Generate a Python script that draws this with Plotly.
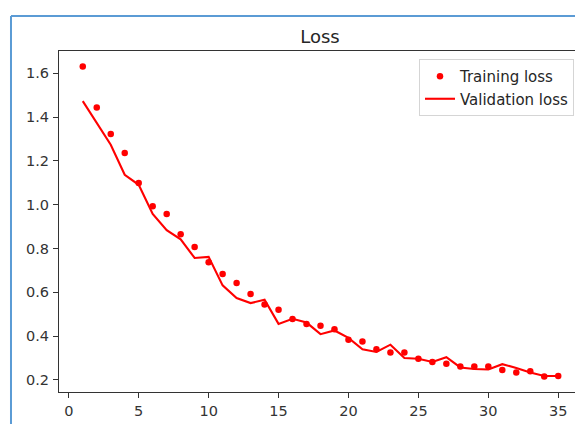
import plotly.graph_objects as go

epochs = list(range(1, 36))
training_loss = [1.631, 1.444, 1.323, 1.236, 1.099, 0.993, 0.958, 0.865, 0.807, 0.737,
                 0.684, 0.643, 0.592, 0.545, 0.521, 0.478, 0.456, 0.447, 0.432, 0.384,
                 0.376, 0.340, 0.325, 0.325, 0.297, 0.282, 0.274, 0.261, 0.262, 0.262,
                 0.246, 0.234, 0.240, 0.216, 0.218]
validation_loss = [1.473, 1.374, 1.274, 1.137, 1.091, 0.958, 0.884, 0.842, 0.757, 0.762,
                   0.632, 0.574, 0.551, 0.566, 0.456, 0.479, 0.462, 0.409, 0.426, 0.392,
                   0.340, 0.328, 0.361, 0.300, 0.297, 0.282, 0.304, 0.257, 0.250, 0.248,
                   0.272, 0.255, 0.234, 0.218, 0.218]
x_ticks = [0, 5, 10, 15, 20, 25, 30, 35]
y_ticks = [0.2, 0.4, 0.6, 0.8, 1.0, 1.2, 1.4, 1.6]
y_tick_labels = ["0.2", "0.4", "0.6", "0.8", "1.0", "1.2", "1.4", "1.6"]

font = "DejaVu Sans"
fig = go.Figure()
fig.add_trace(go.Scatter(x=epochs, y=training_loss, mode="markers", name="Training loss",
                         legendgroup="a",
                         marker=dict(color="#ff0000", size=6.5)))
fig.add_trace(go.Scatter(x=epochs, y=validation_loss, mode="lines", name="Validation loss",
                         legendgroup="b",
                         line=dict(color="#ff0000", width=2.1)))

axis_common = dict(showline=True, linecolor="#333333", linewidth=1.2, mirror=True,
                   ticks="outside", ticklen=5, tickwidth=1.2, tickcolor="#333333", showgrid=False,
                   zeroline=False, tickfont=dict(family=font, size=14.5, color="#333333"))
fig.update_xaxes(range=[-0.7, 36.7], tickvals=x_ticks, **axis_common)
fig.update_yaxes(range=[0.145, 1.702], tickvals=y_ticks, ticktext=y_tick_labels,
                 ticklabelstandoff=1, **axis_common)

W, H = 575, 416
fig.update_layout(
    width=W, height=H,
    margin=dict(l=51, r=1, t=43, b=32),
    paper_bgcolor="white", plot_bgcolor="white",
    title=dict(text="Loss", x=312 / W, xanchor="center", y=1 - 29 / H, yanchor="middle",
               font=dict(family=font, size=18, color="#262626")),
    showlegend=True,
    legend=dict(x=0.9847, y=0.9765, xanchor="right", yanchor="top",
                bordercolor="#d5d5d5", borderwidth=1, bgcolor="rgba(255,255,255,0.85)",
                font=dict(family=font, size=15, color="#262626"),
                itemwidth=30, tracegroupgap=0),
    shapes=[
        dict(type="line", xref="paper", yref="paper", x0=-0.0918, x1=1.1, y0=1.1026, y1=1.1026,
             line=dict(color="#5b9bd5", width=2)),
        dict(type="line", xref="paper", yref="paper", x0=-0.0918, x1=-0.0918, y0=-0.2, y1=1.1026,
             line=dict(color="#5b9bd5", width=2)),
    ],
)

fig.write_html("out.html")
